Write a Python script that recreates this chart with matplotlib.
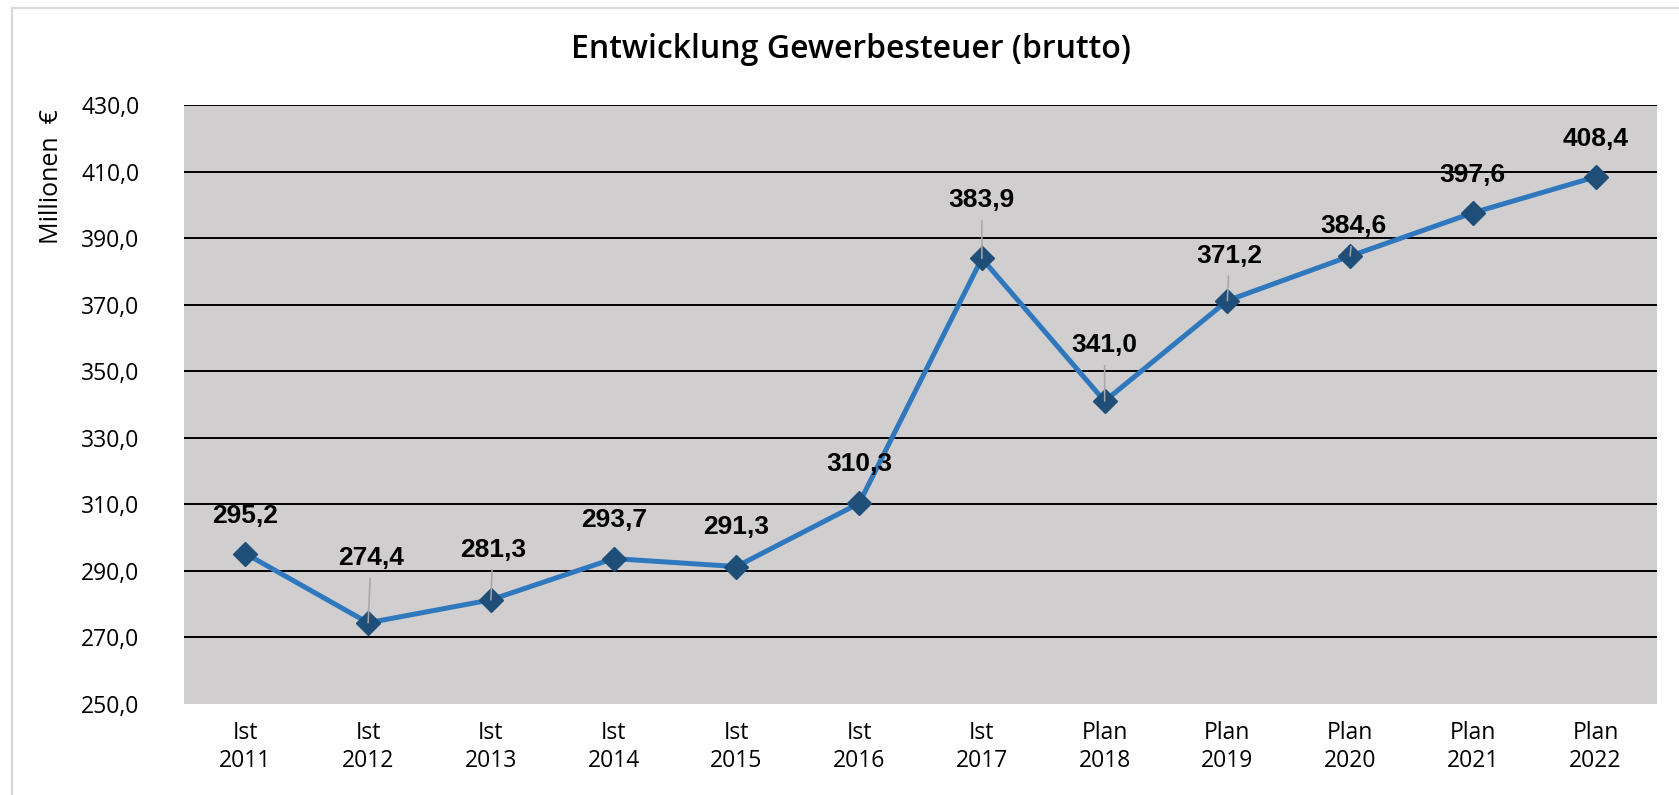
import matplotlib
matplotlib.use("Agg")
import matplotlib.pyplot as plt
from matplotlib.lines import Line2D

# ---- data ----
categories = ["Ist\n2011", "Ist\n2012", "Ist\n2013", "Ist\n2014", "Ist\n2015", "Ist\n2016",
              "Ist\n2017", "Plan\n2018", "Plan\n2019", "Plan\n2020", "Plan\n2021", "Plan\n2022"]
values = [295.2, 274.4, 281.3, 293.7, 291.3, 310.3, 383.9, 341.0, 371.2, 384.6, 397.6, 408.4]
y_ticks = [250, 270, 290, 310, 330, 350, 370, 390, 410, 430]
title = "Entwicklung Gewerbesteuer (brutto)"
y_label = "Millionen  €"

# label placement (offset above the point, in pixels) and leader lines
label_dy_px = [38, 65, 50, 39, 40, 39, 58, 56, 45, 30, 38, 38]
label_dx_px = [0, 3, 2, 0, 0, 0, 0, 0, 2, 3, 0, 0]
leader = [False, True, True, False, False, False, True, True, True, True, False, False]

W, H, DPI = 1679, 795, 100
fig = plt.figure(figsize=(W / DPI, H / DPI), dpi=DPI)
fig.patch.set_facecolor("white")

# outer light border (left & top)
fig.add_artist(Line2D([12 / W, 12 / W], [0, 1 - 8 / H], transform=fig.transFigure,
                      color="#D9D9D9", lw=1.6))
fig.add_artist(Line2D([12 / W, 1], [1 - 8 / H, 1 - 8 / H], transform=fig.transFigure,
                      color="#D9D9D9", lw=1.6))

left, right, top, bottom = 184, 1657, 105, 704
ax = fig.add_axes([left / W, 1 - bottom / H, (right - left) / W, (bottom - top) / H])
ax.set_facecolor("#D0CECF")
for s in ax.spines.values():
    s.set_visible(False)

x = list(range(len(categories)))
ax.set_xlim(-0.5, len(categories) - 0.5)
ax.set_ylim(y_ticks[0], y_ticks[-1])

for t in y_ticks[1:]:
    ax.axhline(t, color="black", lw=1.4, zorder=1)

ax.plot(x, values, color="#2F78BD", lw=3.6, zorder=2, solid_joinstyle="round")
ax.plot(x, values, ls="none", marker="D", ms=12.5, color="#1F4E79",
        markeredgecolor="#1F4E79", zorder=3)

pt = 72 / DPI
for i, v in enumerate(values):
    txt = f"{v:.1f}".replace(".", ",")
    kw = {}
    if leader[i]:
        kw["arrowprops"] = dict(arrowstyle="-", color="#A6A6A6", lw=1.1,
                                shrinkA=4, shrinkB=0)
    ax.annotate(txt, xy=(i, v), xytext=(label_dx_px[i] * pt, label_dy_px[i] * pt),
                textcoords="offset points", ha="center", va="center",
                fontsize=19, fontweight="bold", family="Liberation Sans",
                color="black", zorder=4, **kw)

ax.set_yticks(y_ticks)
ax.set_yticklabels([f"{t:.1f}".replace(".", ",") for t in y_ticks],
                   family="Open Sans", fontsize=16.5)
ax.set_xticks(x)
ax.set_xticklabels(categories, family="Open Sans", fontsize=16.5, linespacing=1.25)
ax.tick_params(axis="both", length=0, colors="black")
ax.tick_params(axis="y", pad=32)
ax.tick_params(axis="x", pad=12)

fig.text(851 / W, 1 - 50 / H, title, ha="center", va="center",
         family="Open Sans", fontsize=23, fontweight="semibold", color="black")
fig.text(51 / W, 1 - 177 / H, y_label, ha="center", va="center", rotation=90,
         family="Open Sans", fontsize=18, color="black")

fig.savefig("out.png", dpi=DPI)
